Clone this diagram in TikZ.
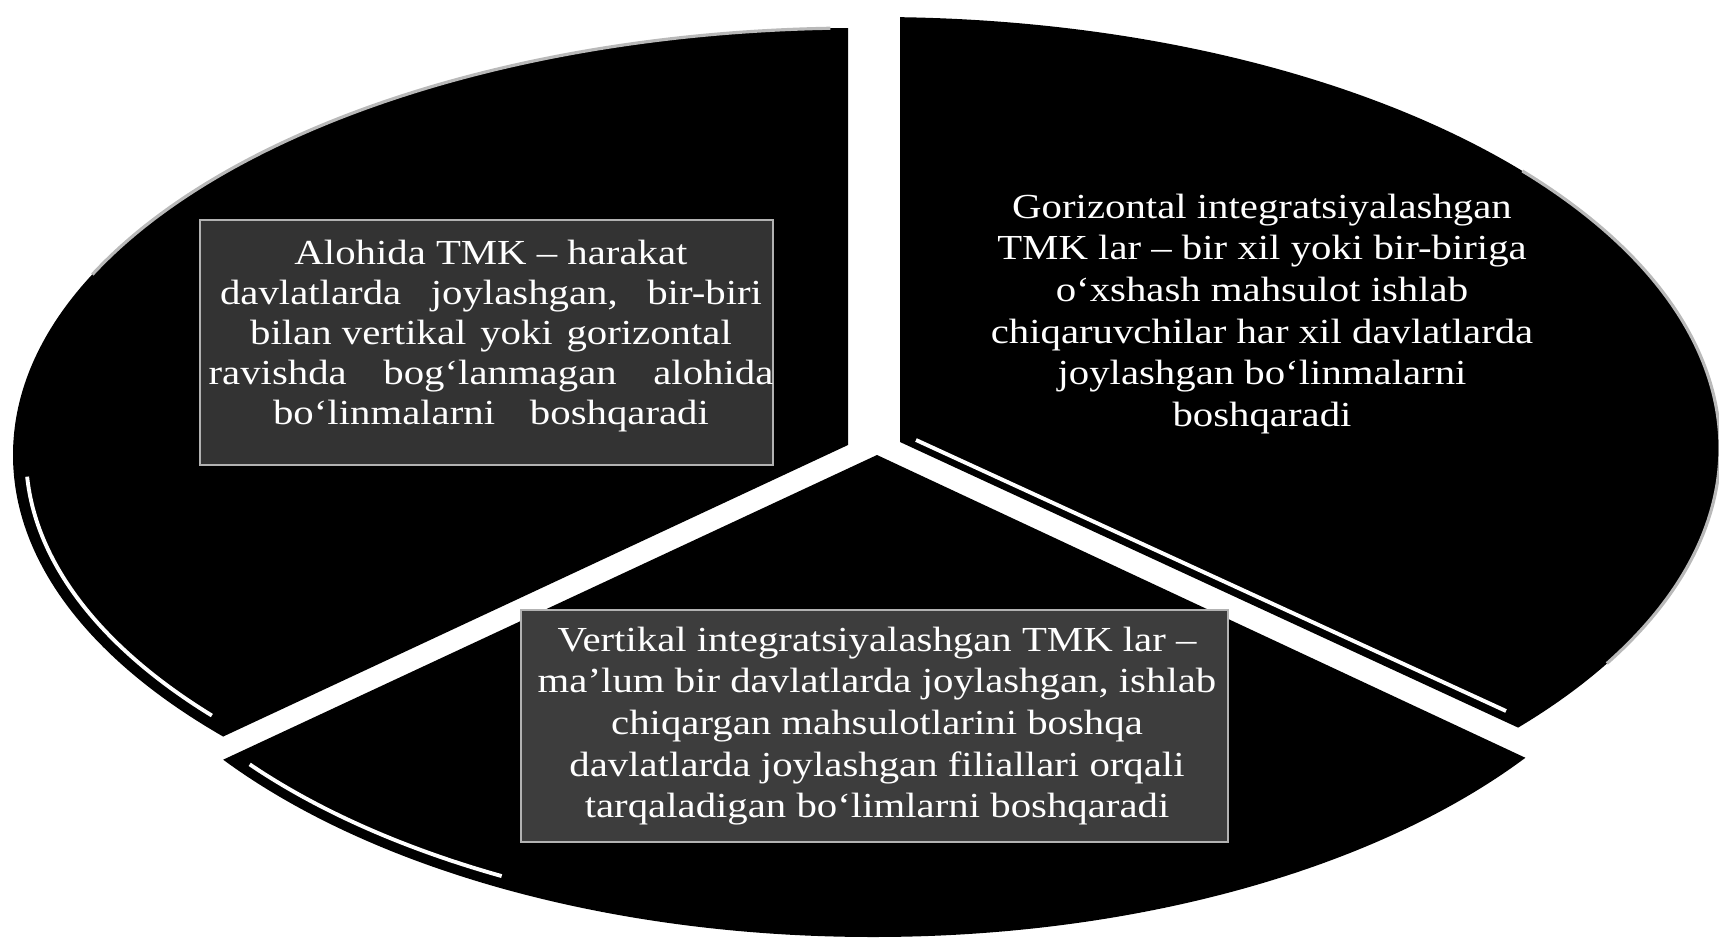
\documentclass[tikz,border=0pt]{standalone}
\usepackage{fontspec}
\setmainfont{Liberation Serif}[FakeStretch=1.16]
\begin{document}
\begin{tikzpicture}[x=0.01cm,y=-0.01cm,
  sector/.style={fill=black},
  fringe/.style={draw=gray!55, line width=0.9pt},
  shine/.style={draw=white, line width=1.1pt},
  txtbox/.style={fill=black!80, draw=gray!60, line width=0.6pt, inner sep=0pt},
  txt/.style={text=white, align=center, inner sep=0pt}]
\useasboundingbox (0,0) rectangle (1719,940);
% left sector
\begin{scope}
  \clip (848,445) -- (848,-50) -- (-50,-50) -- (-50,864) -- cycle;
  \fill[sector] (860,455) ellipse [x radius=847, y radius=427];
  \draw[fringe] (860,455) ++(205:847 and 427) arc[start angle=205, end angle=268, x radius=847, y radius=427];
  \draw[shine] (860,455) ++(177:834 and 414) arc[start angle=177, end angle=141, x radius=834, y radius=414];
\end{scope}
% right sector
\begin{scope}
  \clip (900,442) -- (900,-50) -- (1770,-50) -- (1770,844) -- cycle;
  \fill[sector] (875,448) ellipse [x radius=845, y radius=431];
  \draw[fringe] (875,448) ++(-40:845 and 431) arc[start angle=-40, end angle=30, x radius=845, y radius=431];
\end{scope}
\coordinate (rs1) at (916,440);
\coordinate (rs2) at (1506,711);
\draw[shine] (rs1) -- (rs2);
% bottom sector
\begin{scope}
  \clip (877,455) -- (-50,887) -- (-50,990) -- (1770,990) -- (1770,872) -- cycle;
  \fill[sector] (873,507) ellipse [x radius=803, y radius=430];
  \draw[shine] (873,507) ++(142:791 and 418) arc[start angle=142, end angle=118, x radius=791, y radius=418];
\end{scope}
% boxes
\node[txtbox, minimum width=5.73cm, minimum height=2.45cm] (lbox) at (486.5,342.5) {};
\node[txtbox, fill=black!76, minimum width=7.07cm, minimum height=2.32cm] (bbox) at (874.5,726) {};
% texts
\node[txt, font=\fontsize{10}{11.4}\selectfont] (ltxt) at (491,336) {%
Alohida TMK -- harakat\\
davlatlarda\hspace{5.5pt} joylashgan,\hspace{5.5pt} bir-biri\\
bilan vertikal\hspace{1pt} yoki\hspace{1pt} gorizontal\\
ravishda\hspace{7.5pt} bog‘lanmagan\hspace{7.5pt} alohida\\
bo‘linmalarni\hspace{7pt} boshqaradi};
\node[txt, font=\fontsize{10}{11.85}\selectfont] (rtxt) at (1262,314) {%
Gorizontal integratsiyalashgan\\
TMK lar -- bir xil yoki bir-biriga\\
o‘xshash mahsulot ishlab\\
chiqaruvchilar har xil davlatlarda\\
joylashgan bo‘linmalarni\\
boshqaradi};
\node[txt, font=\fontsize{10}{11.85}\selectfont] (btxt) at (877,726) {%
Vertikal integratsiyalashgan TMK lar --\\
ma’lum bir davlatlarda joylashgan, ishlab\\
chiqargan mahsulotlarini boshqa\\
davlatlarda joylashgan filiallari orqali\\
tarqaladigan bo‘limlarni boshqaradi};
\end{tikzpicture}
\end{document}
